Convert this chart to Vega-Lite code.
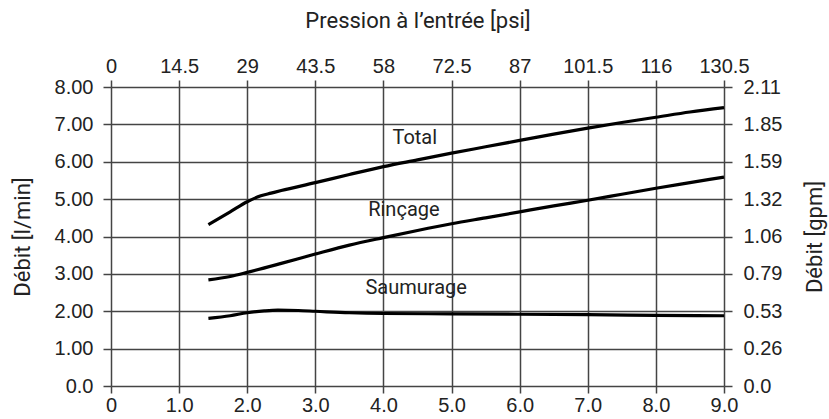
{
  "$schema": "https://vega.github.io/schema/vega-lite/v6.json",
  "autosize": "none",
  "width": 613,
  "height": 299,
  "padding": {"left": 111, "top": 87, "right": 105, "bottom": 33},
  "background": "white",
  "config": {
    "view": {"stroke": null},
    "axis": {
      "domain": false,
      "tickColor": "#444",
      "tickWidth": 1.5,
      "gridColor": "#444",
      "gridWidth": 1.5,
      "gridOpacity": 1,
      "labelFont": "Liberation Sans",
      "labelFontSize": 20,
      "labelColor": "#222",
      "labelFlush": false,
      "labelOverlap": false,
      "titleFont": "Roboto",
      "titleFontSize": 22,
      "titleFontWeight": "normal",
      "titleColor": "#222"
    }
  },
  "resolve": {"axis": {"x": "independent", "y": "independent"}},
  "layer": [
    {
      "data": {
        "values": [
          {"series": "Total", "bar": 1.43, "flow": 4.32},
          {"series": "Total", "bar": 1.75, "flow": 4.66},
          {"series": "Total", "bar": 2.0, "flow": 4.93},
          {"series": "Total", "bar": 2.2, "flow": 5.09},
          {"series": "Total", "bar": 2.35, "flow": 5.16},
          {"series": "Total", "bar": 2.5, "flow": 5.23},
          {"series": "Total", "bar": 3.0, "flow": 5.44},
          {"series": "Total", "bar": 3.5, "flow": 5.66},
          {"series": "Total", "bar": 4.0, "flow": 5.87},
          {"series": "Total", "bar": 4.5, "flow": 6.05},
          {"series": "Total", "bar": 5.0, "flow": 6.23},
          {"series": "Total", "bar": 5.5, "flow": 6.4},
          {"series": "Total", "bar": 6.0, "flow": 6.57},
          {"series": "Total", "bar": 6.5, "flow": 6.74},
          {"series": "Total", "bar": 7.0, "flow": 6.9},
          {"series": "Total", "bar": 7.5, "flow": 7.05},
          {"series": "Total", "bar": 8.0, "flow": 7.19},
          {"series": "Total", "bar": 8.5, "flow": 7.33},
          {"series": "Total", "bar": 9.0, "flow": 7.45},
          {"series": "Rinçage", "bar": 1.43, "flow": 2.84},
          {"series": "Rinçage", "bar": 1.75, "flow": 2.93},
          {"series": "Rinçage", "bar": 2.0, "flow": 3.04},
          {"series": "Rinçage", "bar": 2.5, "flow": 3.28},
          {"series": "Rinçage", "bar": 3.0, "flow": 3.53},
          {"series": "Rinçage", "bar": 3.5, "flow": 3.77},
          {"series": "Rinçage", "bar": 4.0, "flow": 3.97},
          {"series": "Rinçage", "bar": 4.5, "flow": 4.16},
          {"series": "Rinçage", "bar": 5.0, "flow": 4.34},
          {"series": "Rinçage", "bar": 5.5, "flow": 4.5},
          {"series": "Rinçage", "bar": 6.0, "flow": 4.66},
          {"series": "Rinçage", "bar": 6.5, "flow": 4.82},
          {"series": "Rinçage", "bar": 7.0, "flow": 4.97},
          {"series": "Rinçage", "bar": 7.5, "flow": 5.13},
          {"series": "Rinçage", "bar": 8.0, "flow": 5.29},
          {"series": "Rinçage", "bar": 8.5, "flow": 5.44},
          {"series": "Rinçage", "bar": 9.0, "flow": 5.59},
          {"series": "Saumurage", "bar": 1.43, "flow": 1.81},
          {"series": "Saumurage", "bar": 1.75, "flow": 1.88},
          {"series": "Saumurage", "bar": 2.0, "flow": 1.96},
          {"series": "Saumurage", "bar": 2.25, "flow": 2.01},
          {"series": "Saumurage", "bar": 2.45, "flow": 2.03},
          {"series": "Saumurage", "bar": 2.75, "flow": 2.02},
          {"series": "Saumurage", "bar": 3.0, "flow": 2.0},
          {"series": "Saumurage", "bar": 3.5, "flow": 1.96},
          {"series": "Saumurage", "bar": 4.0, "flow": 1.94},
          {"series": "Saumurage", "bar": 5.0, "flow": 1.93},
          {"series": "Saumurage", "bar": 6.0, "flow": 1.92},
          {"series": "Saumurage", "bar": 7.0, "flow": 1.91},
          {"series": "Saumurage", "bar": 8.0, "flow": 1.89},
          {"series": "Saumurage", "bar": 9.0, "flow": 1.88}
        ]
      },
      "mark": {"type": "line", "color": "black", "strokeWidth": 3.2, "interpolate": "monotone"},
      "encoding": {
        "x": {
          "field": "bar", "type": "quantitative",
          "scale": {"domain": [0, 9], "nice": false},
          "axis": {
            "orient": "bottom", "title": null,
            "values": [0, 1, 2, 3, 4, 5, 6, 7, 8, 9],
            "labelExpr": "datum.value == 0 ? '0' : format(datum.value, '.1f')",
            "tickSize": 7, "labelPadding": 2, "grid": true
          }
        },
        "y": {
          "field": "flow", "type": "quantitative",
          "scale": {"domain": [0, 8], "nice": false},
          "axis": {
            "orient": "left", "title": "Débit [l/min]",
            "values": [0, 1, 2, 3, 4, 5, 6, 7, 8],
            "labelExpr": "datum.value == 0 ? '0.0' : format(datum.value, '.2f')",
            "tickSize": 8, "labelPadding": 10, "grid": true, "titlePadding": 20
          }
        },
        "detail": {"field": "series", "type": "nominal"}
      }
    },
    {
      "mark": {"type": "rect", "color": "white"},
      "encoding": {
        "x": {"datum": 4.11, "type": "quantitative", "axis": null},
        "x2": {"datum": 4.82},
        "y": {"datum": 7.06, "type": "quantitative", "axis": null},
        "y2": {"datum": 6.33}
      }
    },
    {
      "mark": {"type": "rect", "color": "white"},
      "encoding": {
        "x": {"datum": 3.76, "type": "quantitative", "axis": null},
        "x2": {"datum": 4.83},
        "y": {"datum": 5.11, "type": "quantitative", "axis": null},
        "y2": {"datum": 4.39}
      }
    },
    {
      "mark": {"type": "rect", "color": "white"},
      "encoding": {
        "x": {"datum": 3.69, "type": "quantitative", "axis": null},
        "x2": {"datum": 5.27},
        "y": {"datum": 3.05, "type": "quantitative", "axis": null},
        "y2": {"datum": 2.25}
      }
    },
    {
      "data": {
        "values": [
          {"label": "Total", "lx": 4.46, "ly": 6.47},
          {"label": "Rinçage", "lx": 4.3, "ly": 4.55},
          {"label": "Saumurage", "lx": 4.48, "ly": 2.46}
        ]
      },
      "mark": {"type": "text", "font": "Roboto", "fontSize": 20, "color": "#222", "align": "center", "baseline": "alphabetic"},
      "encoding": {
        "text": {"field": "label"},
        "x": {
          "field": "lx", "type": "quantitative",
          "axis": {
            "orient": "top", "title": "Pression à l’entrée [psi]",
            "values": [0, 1, 2, 3, 4, 5, 6, 7, 8, 9],
            "labelExpr": "'' + (datum.value * 14.5)",
            "tickSize": 7, "labelPadding": 4, "grid": false, "titlePadding": 24
          }
        },
        "y": {
          "field": "ly", "type": "quantitative",
          "axis": {
            "orient": "right", "title": "Débit [gpm]", "titleAngle": 270,
            "values": [0, 1, 2, 3, 4, 5, 6, 7, 8],
            "labelExpr": "datum.value == 0 ? '0.0' : format(datum.value * 0.264172, '.2f')",
            "tickSize": 8, "labelPadding": 11, "grid": false, "titlePadding": 45
          }
        }
      }
    }
  ]
}
